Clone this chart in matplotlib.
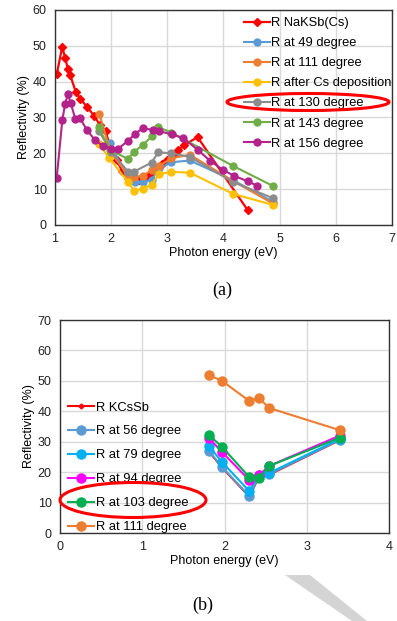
import matplotlib
matplotlib.use("Agg")
from matplotlib import pyplot as plt
from matplotlib.patches import Ellipse, Polygon

plt.rcParams['font.family'] = ['Liberation Sans', 'DejaVu Sans']

# (a) NaKSb(Cs) reflectivity
x_nak = [1.03, 1.13, 1.18, 1.23, 1.27, 1.37, 1.45, 1.57, 1.7, 1.8, 1.9, 2.0, 2.1, 2.2, 2.3,
         2.4, 2.5, 2.6, 2.7, 2.8, 2.9, 3.0, 3.1, 3.2, 3.3, 3.54, 4.43]
y_nak = [42, 49.7, 46.6, 43.6, 41.8, 37.2, 35.2, 33, 30.4, 27.9, 26.2, 21, 18, 15, 13,
         12.8, 12.5, 13.1, 14.3, 15.7, 17, 18, 19.5, 21, 22.3, 24.5, 4.2]

x_49 = [1.98, 2.3, 2.42, 2.56, 2.72, 2.86, 3.07, 3.4, 4.17, 4.88]
y_49 = [22.8, 13, 12, 12, 12.6, 15.8, 17.5, 18, 12.5, 6.5]

x_111 = [1.79, 2.0, 2.3, 2.41, 2.56, 2.72, 2.86, 3.07, 3.4, 4.17, 4.88]
y_111 = [30.9, 20, 14, 13.5, 13.7, 15.3, 16.5, 18.6, 19.6, 12.3, 6]

x_cs = [1.78, 1.97, 2.3, 2.41, 2.56, 2.72, 2.85, 3.07, 3.4, 4.17, 4.88]
y_cs = [22.6, 18.6, 12, 9.6, 10.1, 11.2, 14.2, 14.8, 14.6, 8.7, 5.6]

x_130 = [1.78, 2.0, 2.3, 2.41, 2.72, 2.84, 3.07, 3.4, 4.17, 4.88]
y_130 = [26.3, 20.5, 14.9, 14.9, 17.4, 20.3, 20, 19, 12, 7.5]

x_143 = [1.78, 1.98, 2.3, 2.41, 2.56, 2.72, 2.83, 3.07, 4.17, 4.88]
y_143 = [27.2, 21, 18.4, 20.5, 22.2, 24.7, 27.4, 25.8, 16.5, 10.9]

x_156 = [1.03, 1.13, 1.18, 1.23, 1.28, 1.36, 1.44, 1.57, 1.71, 1.85, 2.0, 2.12, 2.3,
         2.42, 2.56, 2.75, 2.85, 3.08, 3.28, 3.54, 3.77, 4.0, 4.18, 4.43, 4.6]
y_156 = [13, 29.2, 33.7, 36.5, 34, 29.7, 29.9, 26.5, 23.7, 22.1, 21.2, 21.2, 23.5,
         25.3, 27, 26.5, 26.2, 25.3, 24.3, 21, 17.8, 15.3, 13.8, 12.2, 11]

# (b) KCsSb reflectivity
x_b = [1.81, 1.97, 2.3, 2.42, 2.54, 3.4]
y_kcssb = [26.8, 21.5, 12.0, 18.4, 19.1, 30.5]
y_56 = [27, 21.7, 12.2, 18.6, 19.3, 30.6]
y_79 = [28.6, 23.3, 13.8, 19, 19.7, 30.9]
y_94 = [31.2, 26.6, 17.4, 19, 22, 32]
y_103 = [32.2, 28.3, 18.4, 18.1, 22, 31.3]
y_111b = [51.9, 50, 43.4, 44.4, 41.1, 33.8]

fig = plt.figure(figsize=(3.97, 6.21), dpi=100)

def style(ax):
    ax.grid(True, color="#d9d9d9", linewidth=1)
    ax.set_axisbelow(True)
    ax.tick_params(length=0, labelsize=9, pad=6, colors="#222222")
    for s in ax.spines.values():
        s.set_color("#333333")
        s.set_linewidth(1)

ax1 = fig.add_axes([0.1385, 0.6377, 0.8485, 0.3463])
ax1.plot(x_nak, y_nak, color="#ff0000", marker="D", ms=4.5, lw=1.6, label="R NaKSb(Cs)")
ax1.plot(x_49, y_49, color="#5b9bd5", marker="o", ms=5, lw=1.5, label="R at 49 degree")
ax1.plot(x_111, y_111, color="#ed7d31", marker="o", ms=5, lw=1.5, label="R at 111 degree")
ax1.plot(x_cs, y_cs, color="#ffc000", marker="o", ms=5, lw=1.5, label="R after Cs deposition")
ax1.plot(x_130, y_130, color="#8c8c8c", marker="o", ms=5, lw=1.5, label="R at 130 degree")
ax1.plot(x_143, y_143, color="#70ad47", marker="o", ms=5, lw=1.5, label="R at 143 degree")
ax1.plot(x_156, y_156, color="#b4228c", marker="o", ms=5, lw=1.5, label="R at 156 degree")
ax1.set_xlim(1, 7)
ax1.set_ylim(0, 60)
ax1.set_xticks(range(1, 8))
ax1.set_yticks(range(0, 61, 10))
style(ax1)
ax1.set_xlabel("Photon energy (eV)", fontsize=9, labelpad=1)
ax1.set_ylabel("Reflectivity (%)", fontsize=9, labelpad=2)
ax1.legend(loc="upper left", bbox_to_anchor=(0.545, 0.99), frameon=False, fontsize=9.3,
           handlelength=2.0, handletextpad=0.1, labelspacing=0.62, borderaxespad=0)

ax2 = fig.add_axes([0.151, 0.1417, 0.829, 0.343])
ax2.plot(x_b, y_kcssb, color="#ff0000", marker="D", ms=2.5, lw=1.5, label="R KCsSb")
ax2.plot(x_b, y_56, color="#5b9bd5", marker="o", ms=6.5, lw=1.5, label="R at 56 degree")
ax2.plot(x_b, y_79, color="#00b0f0", marker="o", ms=6.5, lw=1.5, label="R at 79 degree")
ax2.plot(x_b, y_94, color="#ff00ff", marker="o", ms=6.5, lw=1.5, label="R at 94 degree")
ax2.plot(x_b, y_103, color="#00b050", marker="o", ms=6.5, lw=1.5, label="R at 103 degree")
ax2.plot(x_b, y_111b, color="#ed7d31", marker="o", ms=6.5, lw=1.5, label="R at 111 degree")
ax2.set_xlim(0, 4)
ax2.set_ylim(0, 70)
ax2.set_xticks(range(0, 5))
ax2.set_yticks(range(0, 71, 10))
style(ax2)
ax2.set_xlabel("Photon energy (eV)", fontsize=9, labelpad=1)
ax2.set_ylabel("Reflectivity (%)", fontsize=9, labelpad=2)
ax2.legend(loc="lower left", bbox_to_anchor=(0.01, -0.025), frameon=False, fontsize=9.3,
           handlelength=2.0, handletextpad=0.1, labelspacing=0.92, borderaxespad=0)

# red highlight ellipses
W, H = 397.0, 621.0
fig.patches.append(Ellipse((308 / W, 1 - 102 / H), 162 / W, 17 / H, transform=fig.transFigure,
                           fill=False, edgecolor="#ff0000", linewidth=2.2, zorder=10))
fig.patches.append(Ellipse((133 / W, 1 - 500 / H), 146 / W, 35 / H, transform=fig.transFigure,
                           fill=False, edgecolor="#ff0000", linewidth=2.2, zorder=10))

# grey band in the corner
band = [(285, 575), (310, 575), (367, 621), (352, 621)]
fig.patches.append(Polygon([(px / W, 1 - py / H) for px, py in band], closed=True,
                           transform=fig.transFigure, facecolor="#d4d4d4", edgecolor="none"))

fig.text(222 / W, 1 - 290 / H, "(a)", ha="center", va="center", fontsize=13,
         family="Liberation Serif")
fig.text(203 / W, 1 - 605 / H, "(b)", ha="center", va="center", fontsize=13,
         family="Liberation Serif")

plt.savefig("out.png", dpi=100)
